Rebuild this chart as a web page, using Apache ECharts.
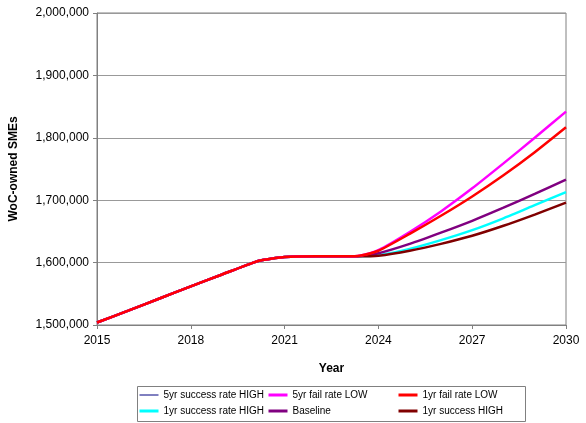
<!DOCTYPE html>
<html>
<head>
<meta charset="utf-8">
<script src="https://cdn.jsdelivr.net/npm/echarts@6/dist/echarts.min.js"></script>
<style>
html,body{margin:0;padding:0;background:#fff;}
#chart{width:586px;height:423px;}
</style>
</head>
<body>
<div id="chart"></div>
<script>
var years = [2015, 2016, 2017, 2018, 2019, 2020, 2020.3, 2021, 2022, 2023, 2023.4, 2024, 2025, 2026, 2027, 2028, 2029, 2030];
var xTicks = [2015, 2018, 2021, 2024, 2027, 2030];
var yTicks = [1500000, 1600000, 1700000, 1800000, 1900000, 2000000];

var fiveYrSuccessHigh = [1504000, 1523000, 1542500, 1562000, 1581000, 1600000, 1604000, 1609000, 1610000, 1610000, 1611000, 1619000, 1646000, 1675000, 1706000, 1740000, 1777000, 1817000];
var fiveYrFailLow     = [1504000, 1523000, 1542500, 1562000, 1581000, 1600000, 1604000, 1609000, 1610000, 1610000, 1611000, 1620000, 1649000, 1682000, 1719000, 1759000, 1800000, 1842000];
var oneYrFailLow      = [1504000, 1523000, 1542500, 1562000, 1581000, 1600000, 1604000, 1609000, 1610000, 1610000, 1611000, 1619000, 1646000, 1675000, 1706000, 1740000, 1777000, 1817000];
var oneYrSuccessRateHigh = [1504000, 1523000, 1542500, 1562000, 1581000, 1600000, 1604000, 1609000, 1610000, 1610000, 1610000, 1612000, 1622000, 1636000, 1652000, 1671000, 1692000, 1713000];
var baseline          = [1504000, 1523000, 1542500, 1562000, 1581000, 1600000, 1604000, 1609000, 1610000, 1610000, 1610500, 1615000, 1630000, 1648000, 1667000, 1688000, 1710000, 1733000];
var oneYrSuccessHigh  = [1504000, 1523000, 1542500, 1562000, 1581000, 1600000, 1604000, 1609000, 1610000, 1610000, 1610000, 1611000, 1619000, 1630000, 1643000, 1659000, 1677000, 1696000];

var names = ['5yr success rate HIGH', '5yr fail rate LOW', '1yr fail rate LOW', '1yr success rate HIGH', 'Baseline', '1yr success HIGH'];
var colors = ['#000080', '#FF00FF', '#FF0000', '#00FFFF', '#800080', '#800000'];

function pairs(vals) { return years.map(function (y, i) { return [y, vals[i]]; }); }
function mk(name, vals, color, width, z) {
  return {
    name: name, type: 'line', data: pairs(vals), symbol: 'none',
    smooth: 0.2, z: z,
    lineStyle: { color: color, width: width }, itemStyle: { color: color }
  };
}
function li(i, w) { return { name: names[i], lineStyle: { width: w, color: colors[i], opacity: 1 } }; }

var chart = echarts.init(document.getElementById('chart'), null, { renderer: 'canvas' });
var font = 'Liberation Sans, Arial, sans-serif';
var legendCommon = {
  orient: 'vertical', top: 390, itemWidth: 19, itemHeight: 12, itemGap: 6,
  padding: 0, itemStyle: { opacity: 0 },
  textStyle: { fontFamily: font, fontSize: 10, color: '#000' }
};
chart.setOption({
  animation: false,
  backgroundColor: '#fff',
  grid: { left: 95, right: 20, top: 13, bottom: 98, show: true, borderColor: '#808080', borderWidth: 1 },
  xAxis: {
    type: 'value', min: xTicks[0], max: xTicks[xTicks.length - 1], interval: 3,
    name: 'Year', nameLocation: 'middle', nameGap: 38,
    nameTextStyle: { fontFamily: font, fontSize: 12, fontWeight: 'bold', color: '#000' },
    axisLine: { lineStyle: { color: '#808080' } },
    axisTick: { show: true, length: 4, lineStyle: { color: '#808080' } },
    axisLabel: { fontFamily: font, fontSize: 12, color: '#000', margin: 10, formatter: function (v) { return String(v); } },
    splitLine: { show: false }
  },
  yAxis: {
    type: 'value', min: yTicks[0], max: yTicks[yTicks.length - 1], interval: 100000,
    name: 'WoC-owned SMEs', nameLocation: 'middle', nameGap: 77,
    nameTextStyle: { fontFamily: font, fontSize: 12, fontWeight: 'bold', color: '#000' },
    axisLine: { show: true, lineStyle: { color: '#808080' } },
    axisTick: { show: true, length: 4, lineStyle: { color: '#808080' } },
    axisLabel: { fontFamily: font, fontSize: 12, color: '#000', margin: 8,
      formatter: function (v) { return v.toLocaleString('en-US'); } },
    splitLine: { show: true, lineStyle: { color: '#999999', width: 1 } }
  },
  legend: [
    Object.assign({ left: 138, data: [li(0, 1), li(3, 3)] }, legendCommon),
    Object.assign({ left: 267, data: [li(1, 3), li(4, 3)] }, legendCommon),
    Object.assign({ left: 397, data: [li(2, 3), li(5, 3)] }, legendCommon)
  ],
  graphic: [{
    type: 'rect', left: 135, top: 384, shape: { width: 388, height: 35 },
    style: { fill: 'none', stroke: '#808080', lineWidth: 1 }, silent: true
  }],
  series: [
    mk(names[0], fiveYrSuccessHigh, colors[0], 1, 1),
    mk(names[3], oneYrSuccessRateHigh, colors[3], 2.5, 2),
    mk(names[4], baseline, colors[4], 2.5, 3),
    mk(names[5], oneYrSuccessHigh, colors[5], 2.5, 4),
    mk(names[1], fiveYrFailLow, colors[1], 2.5, 5),
    mk(names[2], oneYrFailLow, colors[2], 2.5, 6)
  ]
});
</script>
</body>
</html>
